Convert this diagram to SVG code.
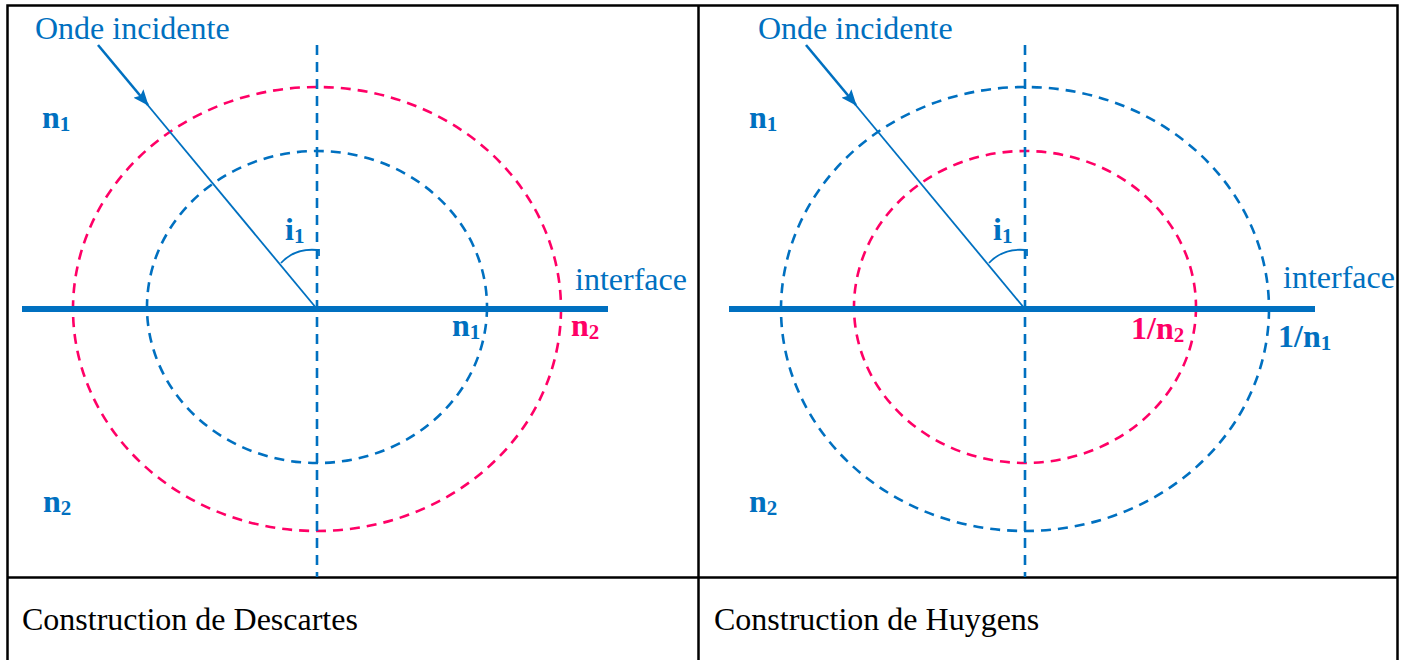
<svg xmlns="http://www.w3.org/2000/svg" width="1405" height="660" viewBox="0 0 1405 660">
<defs>
<style>
.frame{fill:none;stroke:#000;stroke-width:2.5}
.blue{stroke:#0070C0}
.red{stroke:#FF0066}
.dash{fill:none;stroke-width:2.6;stroke-dasharray:10 7}
.iface{stroke:#0070C0;stroke-width:6}
.ray{stroke:#0070C0;stroke-width:1.8;fill:none}
.ray2{stroke:#0070C0;stroke-width:2.6;fill:none}
.lbl{font-family:"Liberation Serif","Times New Roman",serif;font-size:32px;fill:#0070C0}
.b{font-family:"Liberation Serif","Times New Roman",serif;font-size:32px;font-weight:bold}
.tb{fill:#0070C0}
.tr{fill:#FF0066}
.cap{font-family:"Liberation Serif","Times New Roman",serif;font-size:32px;fill:#000}
</style>
<marker id="arr" markerWidth="16" markerHeight="13" refX="15" refY="6.5" orient="auto" markerUnits="userSpaceOnUse">
<path d="M0,0 L16,6.5 L0,13 L3,6.5 Z" fill="#0070C0"/>
</marker>
</defs>
<rect width="1405" height="660" fill="#fff"/>
<g id="table">
<rect class="frame" x="7.5" y="5.5" width="1390" height="665"/>
<line class="frame" x1="698.5" y1="5" x2="698.5" y2="660"/>
<line class="frame" x1="7" y1="577.5" x2="1398" y2="577.5"/>
</g>
<g id="descartes">
<g id="circles-left">
<ellipse class="dash red" cx="317" cy="309" rx="244" ry="222"/>
<ellipse class="dash blue" cx="317" cy="307" rx="170" ry="156"/>
</g>
<g id="normal-left"><line class="dash blue" x1="317" y1="45" x2="317" y2="577"/></g>
<g id="interface-left"><line class="iface" x1="22" y1="309" x2="608" y2="309"/></g>
<g id="connectors-left">
<line class="ray2" x1="98" y1="45" x2="148" y2="105" marker-end="url(#arr)"/>
<line class="ray" x1="146" y1="103" x2="317" y2="309"/>
<path class="ray" d="M281,263 Q295,248 317,250 L319,250 L319,256"/>
</g>
<text class="lbl" x="35" y="39">Onde incidente</text>
<text class="lbl" x="575" y="290">interface</text>
<text class="b tb" x="42" y="128">n<tspan font-size="21" dy="3">1</tspan></text>
<text class="b tb" x="43" y="512">n<tspan font-size="21" dy="3">2</tspan></text>
<text class="b tb" x="285" y="240">i<tspan font-size="21" dy="3">1</tspan></text>
<text class="b tb" x="452" y="336">n<tspan font-size="21" dy="3">1</tspan></text>
<text class="b tr" x="571" y="336">n<tspan font-size="21" dy="3">2</tspan></text>
<text class="cap" x="22" y="630">Construction de Descartes</text>
</g>
<g id="huygens">
<g id="circles-right">
<ellipse class="dash blue" cx="1025" cy="309" rx="244" ry="222"/>
<ellipse class="dash red" cx="1025" cy="307" rx="171" ry="156"/>
</g>
<g id="normal-right"><line class="dash blue" x1="1025" y1="45" x2="1025" y2="577"/></g>
<g id="interface-right"><line class="iface" x1="729" y1="309" x2="1315" y2="309"/></g>
<g id="connectors-right">
<line class="ray2" x1="806" y1="45" x2="856" y2="105" marker-end="url(#arr)"/>
<line class="ray" x1="854" y1="103" x2="1025" y2="309"/>
<path class="ray" d="M989,263 Q1003,248 1025,250 L1027,250 L1027,256"/>
</g>
<text class="lbl" x="758" y="39">Onde incidente</text>
<text class="lbl" x="1283" y="288">interface</text>
<text class="b tb" x="749" y="128">n<tspan font-size="21" dy="3">1</tspan></text>
<text class="b tb" x="749" y="512">n<tspan font-size="21" dy="3">2</tspan></text>
<text class="b tb" x="993" y="240">i<tspan font-size="21" dy="3">1</tspan></text>
<text class="b tr" x="1131" y="339">1/n<tspan font-size="21" dy="3">2</tspan></text>
<text class="b tb" x="1278" y="347">1/n<tspan font-size="21" dy="3">1</tspan></text>
<text class="cap" x="714" y="630">Construction de Huygens</text>
</g>
</svg>
